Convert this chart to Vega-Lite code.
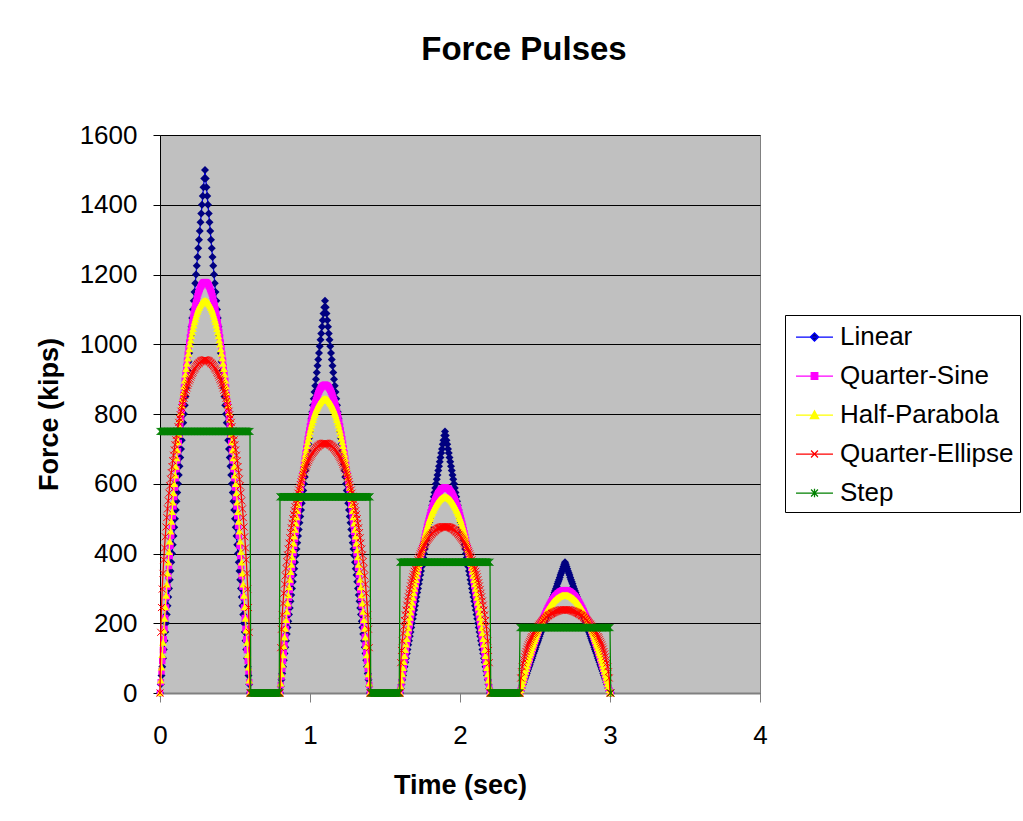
{
"$schema": "https://vega.github.io/schema/vega-lite/v6.json",
"width": 600, "height": 558,
"autosize": {"type": "none"},
"padding": {"left": 160, "top": 135, "right": 263, "bottom": 128},
"background": "white",
"title": {"text": "Force Pulses", "fontSize": 33, "fontWeight": "bold", "font": "Liberation Sans", "color": "black", "frame": "group", "anchor": "middle", "dx": 64, "offset": 55},
"config": {"font": "Liberation Sans", "numberFormat": "d", "view": {"fill": "#C0C0C0", "stroke": "#808080", "strokeWidth": 1},
  "axisY": {"grid": true, "gridColor": "black", "gridOpacity": 1, "gridWidth": 1, "domainColor": "black", "domainWidth": 1,
    "tickColor": "black", "tickSize": 7, "tickCount": 8, "labelFontSize": 26, "labelColor": "black", "labelPadding": 16,
    "labelFlush": false, "labelOverlap": false, "titleFontSize": 27, "titleFontWeight": "bold",
    "titleColor": "black", "titlePadding": 16}},
"data": {"values": [
{"t":0,"L":0,"Q":0,"H":0,"E":0,"S":750},
{"t":0.005,"L":25,"Q":31,"H":37,"E":174,"S":750},
{"t":0.01,"L":50,"Q":62,"H":74,"E":245,"S":750},
{"t":0.015,"L":75,"Q":92,"H":110,"E":298,"S":750},
{"t":0.02,"L":100,"Q":123,"H":145,"E":343,"S":750},
{"t":0.025,"L":125,"Q":154,"H":180,"E":382,"S":750},
{"t":0.03,"L":150,"Q":184,"H":214,"E":416,"S":750},
{"t":0.035,"L":175,"Q":215,"H":247,"E":448,"S":750},
{"t":0.04,"L":200,"Q":245,"H":280,"E":476,"S":750},
{"t":0.045,"L":225,"Q":275,"H":312,"E":503,"S":750},
{"t":0.05,"L":250,"Q":305,"H":344,"E":528,"S":750},
{"t":0.055,"L":275,"Q":335,"H":375,"E":551,"S":750},
{"t":0.06,"L":300,"Q":364,"H":405,"E":573,"S":750},
{"t":0.065,"L":325,"Q":393,"H":435,"E":594,"S":750},
{"t":0.07,"L":350,"Q":422,"H":464,"E":613,"S":750},
{"t":0.075,"L":375,"Q":451,"H":492,"E":632,"S":750},
{"t":0.08,"L":400,"Q":479,"H":520,"E":649,"S":750},
{"t":0.085,"L":425,"Q":507,"H":547,"E":666,"S":750},
{"t":0.09,"L":450,"Q":535,"H":574,"E":682,"S":750},
{"t":0.095,"L":475,"Q":562,"H":600,"E":697,"S":750},
{"t":0.1,"L":500,"Q":589,"H":625,"E":712,"S":750},
{"t":0.105,"L":525,"Q":616,"H":650,"E":726,"S":750},
{"t":0.11,"L":550,"Q":642,"H":674,"E":739,"S":750},
{"t":0.115,"L":575,"Q":667,"H":697,"E":752,"S":750},
{"t":0.12,"L":600,"Q":693,"H":720,"E":764,"S":750},
{"t":0.125,"L":625,"Q":717,"H":742,"E":776,"S":750},
{"t":0.13,"L":650,"Q":741,"H":764,"E":787,"S":750},
{"t":0.135,"L":675,"Q":765,"H":785,"E":798,"S":750},
{"t":0.14,"L":700,"Q":788,"H":805,"E":808,"S":750},
{"t":0.145,"L":725,"Q":811,"H":825,"E":818,"S":750},
{"t":0.15,"L":750,"Q":833,"H":844,"E":827,"S":750},
{"t":0.155,"L":775,"Q":855,"H":862,"E":836,"S":750},
{"t":0.16,"L":800,"Q":876,"H":880,"E":845,"S":750},
{"t":0.165,"L":825,"Q":896,"H":897,"E":853,"S":750},
{"t":0.17,"L":850,"Q":916,"H":914,"E":861,"S":750},
{"t":0.175,"L":875,"Q":935,"H":930,"E":868,"S":750},
{"t":0.18,"L":900,"Q":953,"H":945,"E":875,"S":750},
{"t":0.185,"L":925,"Q":971,"H":960,"E":882,"S":750},
{"t":0.19,"L":950,"Q":988,"H":974,"E":888,"S":750},
{"t":0.195,"L":975,"Q":1005,"H":987,"E":895,"S":750},
{"t":0.2,"L":1000,"Q":1020,"H":1000,"E":900,"S":750},
{"t":0.205,"L":1025,"Q":1035,"H":1012,"E":906,"S":750},
{"t":0.21,"L":1050,"Q":1050,"H":1024,"E":911,"S":750},
{"t":0.215,"L":1075,"Q":1063,"H":1035,"E":916,"S":750},
{"t":0.22,"L":1100,"Q":1076,"H":1045,"E":920,"S":750},
{"t":0.225,"L":1125,"Q":1088,"H":1055,"E":925,"S":750},
{"t":0.23,"L":1150,"Q":1100,"H":1064,"E":929,"S":750},
{"t":0.235,"L":1175,"Q":1111,"H":1072,"E":932,"S":750},
{"t":0.24,"L":1200,"Q":1120,"H":1080,"E":936,"S":750},
{"t":0.245,"L":1225,"Q":1130,"H":1087,"E":939,"S":750},
{"t":0.25,"L":1250,"Q":1138,"H":1094,"E":942,"S":750},
{"t":0.255,"L":1275,"Q":1146,"H":1100,"E":944,"S":750},
{"t":0.26,"L":1300,"Q":1152,"H":1105,"E":946,"S":750},
{"t":0.265,"L":1325,"Q":1158,"H":1110,"E":948,"S":750},
{"t":0.27,"L":1350,"Q":1164,"H":1114,"E":950,"S":750},
{"t":0.275,"L":1375,"Q":1168,"H":1117,"E":952,"S":750},
{"t":0.28,"L":1400,"Q":1172,"H":1120,"E":953,"S":750},
{"t":0.285,"L":1425,"Q":1175,"H":1122,"E":954,"S":750},
{"t":0.29,"L":1450,"Q":1177,"H":1124,"E":954,"S":750},
{"t":0.295,"L":1475,"Q":1178,"H":1125,"E":955,"S":750},
{"t":0.3,"L":1500,"Q":1178,"H":1125,"E":955,"S":750},
{"t":0.305,"L":1475,"Q":1178,"H":1125,"E":955,"S":750},
{"t":0.31,"L":1450,"Q":1177,"H":1124,"E":954,"S":750},
{"t":0.315,"L":1425,"Q":1175,"H":1122,"E":954,"S":750},
{"t":0.32,"L":1400,"Q":1172,"H":1120,"E":953,"S":750},
{"t":0.325,"L":1375,"Q":1168,"H":1117,"E":952,"S":750},
{"t":0.33,"L":1350,"Q":1164,"H":1114,"E":950,"S":750},
{"t":0.335,"L":1325,"Q":1158,"H":1110,"E":948,"S":750},
{"t":0.34,"L":1300,"Q":1152,"H":1105,"E":946,"S":750},
{"t":0.345,"L":1275,"Q":1146,"H":1100,"E":944,"S":750},
{"t":0.35,"L":1250,"Q":1138,"H":1094,"E":942,"S":750},
{"t":0.355,"L":1225,"Q":1130,"H":1087,"E":939,"S":750},
{"t":0.36,"L":1200,"Q":1120,"H":1080,"E":936,"S":750},
{"t":0.365,"L":1175,"Q":1111,"H":1072,"E":932,"S":750},
{"t":0.37,"L":1150,"Q":1100,"H":1064,"E":929,"S":750},
{"t":0.375,"L":1125,"Q":1088,"H":1055,"E":925,"S":750},
{"t":0.38,"L":1100,"Q":1076,"H":1045,"E":920,"S":750},
{"t":0.385,"L":1075,"Q":1063,"H":1035,"E":916,"S":750},
{"t":0.39,"L":1050,"Q":1050,"H":1024,"E":911,"S":750},
{"t":0.395,"L":1025,"Q":1035,"H":1012,"E":906,"S":750},
{"t":0.4,"L":1000,"Q":1020,"H":1000,"E":900,"S":750},
{"t":0.405,"L":975,"Q":1005,"H":987,"E":895,"S":750},
{"t":0.41,"L":950,"Q":988,"H":974,"E":888,"S":750},
{"t":0.415,"L":925,"Q":971,"H":960,"E":882,"S":750},
{"t":0.42,"L":900,"Q":953,"H":945,"E":875,"S":750},
{"t":0.425,"L":875,"Q":935,"H":930,"E":868,"S":750},
{"t":0.43,"L":850,"Q":916,"H":914,"E":861,"S":750},
{"t":0.435,"L":825,"Q":896,"H":897,"E":853,"S":750},
{"t":0.44,"L":800,"Q":876,"H":880,"E":845,"S":750},
{"t":0.445,"L":775,"Q":855,"H":862,"E":836,"S":750},
{"t":0.45,"L":750,"Q":833,"H":844,"E":827,"S":750},
{"t":0.455,"L":725,"Q":811,"H":825,"E":818,"S":750},
{"t":0.46,"L":700,"Q":788,"H":805,"E":808,"S":750},
{"t":0.465,"L":675,"Q":765,"H":785,"E":798,"S":750},
{"t":0.47,"L":650,"Q":741,"H":764,"E":787,"S":750},
{"t":0.475,"L":625,"Q":717,"H":742,"E":776,"S":750},
{"t":0.48,"L":600,"Q":693,"H":720,"E":764,"S":750},
{"t":0.485,"L":575,"Q":667,"H":697,"E":752,"S":750},
{"t":0.49,"L":550,"Q":642,"H":674,"E":739,"S":750},
{"t":0.495,"L":525,"Q":616,"H":650,"E":726,"S":750},
{"t":0.5,"L":500,"Q":589,"H":625,"E":712,"S":750},
{"t":0.505,"L":475,"Q":562,"H":600,"E":697,"S":750},
{"t":0.51,"L":450,"Q":535,"H":574,"E":682,"S":750},
{"t":0.515,"L":425,"Q":507,"H":547,"E":666,"S":750},
{"t":0.52,"L":400,"Q":479,"H":520,"E":649,"S":750},
{"t":0.525,"L":375,"Q":451,"H":492,"E":632,"S":750},
{"t":0.53,"L":350,"Q":422,"H":464,"E":613,"S":750},
{"t":0.535,"L":325,"Q":393,"H":435,"E":594,"S":750},
{"t":0.54,"L":300,"Q":364,"H":405,"E":573,"S":750},
{"t":0.545,"L":275,"Q":335,"H":375,"E":551,"S":750},
{"t":0.55,"L":250,"Q":305,"H":344,"E":528,"S":750},
{"t":0.555,"L":225,"Q":275,"H":312,"E":503,"S":750},
{"t":0.56,"L":200,"Q":245,"H":280,"E":476,"S":750},
{"t":0.565,"L":175,"Q":215,"H":247,"E":448,"S":750},
{"t":0.57,"L":150,"Q":184,"H":214,"E":416,"S":750},
{"t":0.575,"L":125,"Q":154,"H":180,"E":382,"S":750},
{"t":0.58,"L":100,"Q":123,"H":145,"E":343,"S":750},
{"t":0.585,"L":75,"Q":92,"H":110,"E":298,"S":750},
{"t":0.59,"L":50,"Q":62,"H":74,"E":245,"S":750},
{"t":0.595,"L":25,"Q":31,"H":37,"E":174,"S":750},
{"t":0.6,"L":0,"Q":0,"H":0,"E":0,"S":750},
{"t":0.605,"L":0,"Q":0,"H":0,"E":0,"S":0},
{"t":0.61,"L":0,"Q":0,"H":0,"E":0,"S":0},
{"t":0.615,"L":0,"Q":0,"H":0,"E":0,"S":0},
{"t":0.62,"L":0,"Q":0,"H":0,"E":0,"S":0},
{"t":0.625,"L":0,"Q":0,"H":0,"E":0,"S":0},
{"t":0.63,"L":0,"Q":0,"H":0,"E":0,"S":0},
{"t":0.635,"L":0,"Q":0,"H":0,"E":0,"S":0},
{"t":0.64,"L":0,"Q":0,"H":0,"E":0,"S":0},
{"t":0.645,"L":0,"Q":0,"H":0,"E":0,"S":0},
{"t":0.65,"L":0,"Q":0,"H":0,"E":0,"S":0},
{"t":0.655,"L":0,"Q":0,"H":0,"E":0,"S":0},
{"t":0.66,"L":0,"Q":0,"H":0,"E":0,"S":0},
{"t":0.665,"L":0,"Q":0,"H":0,"E":0,"S":0},
{"t":0.67,"L":0,"Q":0,"H":0,"E":0,"S":0},
{"t":0.675,"L":0,"Q":0,"H":0,"E":0,"S":0},
{"t":0.68,"L":0,"Q":0,"H":0,"E":0,"S":0},
{"t":0.685,"L":0,"Q":0,"H":0,"E":0,"S":0},
{"t":0.69,"L":0,"Q":0,"H":0,"E":0,"S":0},
{"t":0.695,"L":0,"Q":0,"H":0,"E":0,"S":0},
{"t":0.7,"L":0,"Q":0,"H":0,"E":0,"S":0},
{"t":0.705,"L":0,"Q":0,"H":0,"E":0,"S":0},
{"t":0.71,"L":0,"Q":0,"H":0,"E":0,"S":0},
{"t":0.715,"L":0,"Q":0,"H":0,"E":0,"S":0},
{"t":0.72,"L":0,"Q":0,"H":0,"E":0,"S":0},
{"t":0.725,"L":0,"Q":0,"H":0,"E":0,"S":0},
{"t":0.73,"L":0,"Q":0,"H":0,"E":0,"S":0},
{"t":0.735,"L":0,"Q":0,"H":0,"E":0,"S":0},
{"t":0.74,"L":0,"Q":0,"H":0,"E":0,"S":0},
{"t":0.745,"L":0,"Q":0,"H":0,"E":0,"S":0},
{"t":0.75,"L":0,"Q":0,"H":0,"E":0,"S":0},
{"t":0.755,"L":0,"Q":0,"H":0,"E":0,"S":0},
{"t":0.76,"L":0,"Q":0,"H":0,"E":0,"S":0},
{"t":0.765,"L":0,"Q":0,"H":0,"E":0,"S":0},
{"t":0.77,"L":0,"Q":0,"H":0,"E":0,"S":0},
{"t":0.775,"L":0,"Q":0,"H":0,"E":0,"S":0},
{"t":0.78,"L":0,"Q":0,"H":0,"E":0,"S":0},
{"t":0.785,"L":0,"Q":0,"H":0,"E":0,"S":0},
{"t":0.79,"L":0,"Q":0,"H":0,"E":0,"S":0},
{"t":0.795,"L":0,"Q":0,"H":0,"E":0,"S":0},
{"t":0.8,"L":0,"Q":0,"H":0,"E":0,"S":562.5},
{"t":0.805,"L":19,"Q":23,"H":28,"E":130,"S":562.5},
{"t":0.81,"L":38,"Q":46,"H":55,"E":183,"S":562.5},
{"t":0.815,"L":56,"Q":69,"H":82,"E":224,"S":562.5},
{"t":0.82,"L":75,"Q":92,"H":109,"E":257,"S":562.5},
{"t":0.825,"L":94,"Q":115,"H":135,"E":286,"S":562.5},
{"t":0.83,"L":113,"Q":138,"H":160,"E":312,"S":562.5},
{"t":0.835,"L":131,"Q":161,"H":185,"E":336,"S":562.5},
{"t":0.84,"L":150,"Q":184,"H":210,"E":357,"S":562.5},
{"t":0.845,"L":169,"Q":206,"H":234,"E":377,"S":562.5},
{"t":0.85,"L":188,"Q":229,"H":258,"E":396,"S":562.5},
{"t":0.855,"L":206,"Q":251,"H":281,"E":413,"S":562.5},
{"t":0.86,"L":225,"Q":273,"H":304,"E":430,"S":562.5},
{"t":0.865,"L":244,"Q":295,"H":326,"E":445,"S":562.5},
{"t":0.87,"L":263,"Q":317,"H":348,"E":460,"S":562.5},
{"t":0.875,"L":281,"Q":338,"H":369,"E":474,"S":562.5},
{"t":0.88,"L":300,"Q":359,"H":390,"E":487,"S":562.5},
{"t":0.885,"L":319,"Q":380,"H":410,"E":500,"S":562.5},
{"t":0.89,"L":338,"Q":401,"H":430,"E":512,"S":562.5},
{"t":0.895,"L":356,"Q":422,"H":450,"E":523,"S":562.5},
{"t":0.9,"L":375,"Q":442,"H":469,"E":534,"S":562.5},
{"t":0.905,"L":394,"Q":462,"H":487,"E":544,"S":562.5},
{"t":0.91,"L":413,"Q":481,"H":505,"E":554,"S":562.5},
{"t":0.915,"L":431,"Q":500,"H":523,"E":564,"S":562.5},
{"t":0.92,"L":450,"Q":519,"H":540,"E":573,"S":562.5},
{"t":0.925,"L":469,"Q":538,"H":557,"E":582,"S":562.5},
{"t":0.93,"L":488,"Q":556,"H":573,"E":590,"S":562.5},
{"t":0.935,"L":506,"Q":574,"H":589,"E":598,"S":562.5},
{"t":0.94,"L":525,"Q":591,"H":604,"E":606,"S":562.5},
{"t":0.945,"L":544,"Q":608,"H":619,"E":613,"S":562.5},
{"t":0.95,"L":563,"Q":625,"H":633,"E":620,"S":562.5},
{"t":0.955,"L":581,"Q":641,"H":647,"E":627,"S":562.5},
{"t":0.96,"L":600,"Q":657,"H":660,"E":633,"S":562.5},
{"t":0.965,"L":619,"Q":672,"H":673,"E":640,"S":562.5},
{"t":0.97,"L":638,"Q":687,"H":685,"E":645,"S":562.5},
{"t":0.975,"L":656,"Q":701,"H":697,"E":651,"S":562.5},
{"t":0.98,"L":675,"Q":715,"H":709,"E":656,"S":562.5},
{"t":0.985,"L":694,"Q":728,"H":720,"E":661,"S":562.5},
{"t":0.99,"L":713,"Q":741,"H":730,"E":666,"S":562.5},
{"t":0.995,"L":731,"Q":753,"H":740,"E":671,"S":562.5},
{"t":1,"L":750,"Q":765,"H":750,"E":675,"S":562.5},
{"t":1.005,"L":769,"Q":776,"H":759,"E":679,"S":562.5},
{"t":1.01,"L":788,"Q":787,"H":768,"E":683,"S":562.5},
{"t":1.015,"L":806,"Q":797,"H":776,"E":687,"S":562.5},
{"t":1.02,"L":825,"Q":807,"H":784,"E":690,"S":562.5},
{"t":1.025,"L":844,"Q":816,"H":791,"E":693,"S":562.5},
{"t":1.03,"L":863,"Q":825,"H":798,"E":696,"S":562.5},
{"t":1.035,"L":881,"Q":833,"H":804,"E":699,"S":562.5},
{"t":1.04,"L":900,"Q":840,"H":810,"E":702,"S":562.5},
{"t":1.045,"L":919,"Q":847,"H":815,"E":704,"S":562.5},
{"t":1.05,"L":938,"Q":853,"H":820,"E":706,"S":562.5},
{"t":1.055,"L":956,"Q":859,"H":825,"E":708,"S":562.5},
{"t":1.06,"L":975,"Q":864,"H":829,"E":710,"S":562.5},
{"t":1.065,"L":994,"Q":869,"H":832,"E":711,"S":562.5},
{"t":1.07,"L":1013,"Q":873,"H":835,"E":713,"S":562.5},
{"t":1.075,"L":1031,"Q":876,"H":838,"E":714,"S":562.5},
{"t":1.08,"L":1050,"Q":879,"H":840,"E":715,"S":562.5},
{"t":1.085,"L":1069,"Q":881,"H":842,"E":715,"S":562.5},
{"t":1.09,"L":1088,"Q":882,"H":843,"E":716,"S":562.5},
{"t":1.095,"L":1106,"Q":883,"H":844,"E":716,"S":562.5},
{"t":1.1,"L":1125,"Q":884,"H":844,"E":716,"S":562.5},
{"t":1.105,"L":1106,"Q":883,"H":844,"E":716,"S":562.5},
{"t":1.11,"L":1088,"Q":882,"H":843,"E":716,"S":562.5},
{"t":1.115,"L":1069,"Q":881,"H":842,"E":715,"S":562.5},
{"t":1.12,"L":1050,"Q":879,"H":840,"E":715,"S":562.5},
{"t":1.125,"L":1031,"Q":876,"H":838,"E":714,"S":562.5},
{"t":1.13,"L":1013,"Q":873,"H":835,"E":713,"S":562.5},
{"t":1.135,"L":994,"Q":869,"H":832,"E":711,"S":562.5},
{"t":1.14,"L":975,"Q":864,"H":829,"E":710,"S":562.5},
{"t":1.145,"L":956,"Q":859,"H":825,"E":708,"S":562.5},
{"t":1.15,"L":938,"Q":853,"H":820,"E":706,"S":562.5},
{"t":1.155,"L":919,"Q":847,"H":815,"E":704,"S":562.5},
{"t":1.16,"L":900,"Q":840,"H":810,"E":702,"S":562.5},
{"t":1.165,"L":881,"Q":833,"H":804,"E":699,"S":562.5},
{"t":1.17,"L":863,"Q":825,"H":798,"E":696,"S":562.5},
{"t":1.175,"L":844,"Q":816,"H":791,"E":693,"S":562.5},
{"t":1.18,"L":825,"Q":807,"H":784,"E":690,"S":562.5},
{"t":1.185,"L":806,"Q":797,"H":776,"E":687,"S":562.5},
{"t":1.19,"L":788,"Q":787,"H":768,"E":683,"S":562.5},
{"t":1.195,"L":769,"Q":776,"H":759,"E":679,"S":562.5},
{"t":1.2,"L":750,"Q":765,"H":750,"E":675,"S":562.5},
{"t":1.205,"L":731,"Q":753,"H":740,"E":671,"S":562.5},
{"t":1.21,"L":713,"Q":741,"H":730,"E":666,"S":562.5},
{"t":1.215,"L":694,"Q":728,"H":720,"E":661,"S":562.5},
{"t":1.22,"L":675,"Q":715,"H":709,"E":656,"S":562.5},
{"t":1.225,"L":656,"Q":701,"H":697,"E":651,"S":562.5},
{"t":1.23,"L":638,"Q":687,"H":685,"E":645,"S":562.5},
{"t":1.235,"L":619,"Q":672,"H":673,"E":640,"S":562.5},
{"t":1.24,"L":600,"Q":657,"H":660,"E":633,"S":562.5},
{"t":1.245,"L":581,"Q":641,"H":647,"E":627,"S":562.5},
{"t":1.25,"L":563,"Q":625,"H":633,"E":620,"S":562.5},
{"t":1.255,"L":544,"Q":608,"H":619,"E":613,"S":562.5},
{"t":1.26,"L":525,"Q":591,"H":604,"E":606,"S":562.5},
{"t":1.265,"L":506,"Q":574,"H":589,"E":598,"S":562.5},
{"t":1.27,"L":488,"Q":556,"H":573,"E":590,"S":562.5},
{"t":1.275,"L":469,"Q":538,"H":557,"E":582,"S":562.5},
{"t":1.28,"L":450,"Q":519,"H":540,"E":573,"S":562.5},
{"t":1.285,"L":431,"Q":500,"H":523,"E":564,"S":562.5},
{"t":1.29,"L":413,"Q":481,"H":505,"E":554,"S":562.5},
{"t":1.295,"L":394,"Q":462,"H":487,"E":544,"S":562.5},
{"t":1.3,"L":375,"Q":442,"H":469,"E":534,"S":562.5},
{"t":1.305,"L":356,"Q":422,"H":450,"E":523,"S":562.5},
{"t":1.31,"L":338,"Q":401,"H":430,"E":512,"S":562.5},
{"t":1.315,"L":319,"Q":380,"H":410,"E":500,"S":562.5},
{"t":1.32,"L":300,"Q":359,"H":390,"E":487,"S":562.5},
{"t":1.325,"L":281,"Q":338,"H":369,"E":474,"S":562.5},
{"t":1.33,"L":263,"Q":317,"H":348,"E":460,"S":562.5},
{"t":1.335,"L":244,"Q":295,"H":326,"E":445,"S":562.5},
{"t":1.34,"L":225,"Q":273,"H":304,"E":430,"S":562.5},
{"t":1.345,"L":206,"Q":251,"H":281,"E":413,"S":562.5},
{"t":1.35,"L":188,"Q":229,"H":258,"E":396,"S":562.5},
{"t":1.355,"L":169,"Q":206,"H":234,"E":377,"S":562.5},
{"t":1.36,"L":150,"Q":184,"H":210,"E":357,"S":562.5},
{"t":1.365,"L":131,"Q":161,"H":185,"E":336,"S":562.5},
{"t":1.37,"L":113,"Q":138,"H":160,"E":312,"S":562.5},
{"t":1.375,"L":94,"Q":115,"H":135,"E":286,"S":562.5},
{"t":1.38,"L":75,"Q":92,"H":109,"E":257,"S":562.5},
{"t":1.385,"L":56,"Q":69,"H":82,"E":224,"S":562.5},
{"t":1.39,"L":38,"Q":46,"H":55,"E":183,"S":562.5},
{"t":1.395,"L":19,"Q":23,"H":28,"E":130,"S":562.5},
{"t":1.4,"L":0,"Q":0,"H":0,"E":0,"S":562.5},
{"t":1.405,"L":0,"Q":0,"H":0,"E":0,"S":0},
{"t":1.41,"L":0,"Q":0,"H":0,"E":0,"S":0},
{"t":1.415,"L":0,"Q":0,"H":0,"E":0,"S":0},
{"t":1.42,"L":0,"Q":0,"H":0,"E":0,"S":0},
{"t":1.425,"L":0,"Q":0,"H":0,"E":0,"S":0},
{"t":1.43,"L":0,"Q":0,"H":0,"E":0,"S":0},
{"t":1.435,"L":0,"Q":0,"H":0,"E":0,"S":0},
{"t":1.44,"L":0,"Q":0,"H":0,"E":0,"S":0},
{"t":1.445,"L":0,"Q":0,"H":0,"E":0,"S":0},
{"t":1.45,"L":0,"Q":0,"H":0,"E":0,"S":0},
{"t":1.455,"L":0,"Q":0,"H":0,"E":0,"S":0},
{"t":1.46,"L":0,"Q":0,"H":0,"E":0,"S":0},
{"t":1.465,"L":0,"Q":0,"H":0,"E":0,"S":0},
{"t":1.47,"L":0,"Q":0,"H":0,"E":0,"S":0},
{"t":1.475,"L":0,"Q":0,"H":0,"E":0,"S":0},
{"t":1.48,"L":0,"Q":0,"H":0,"E":0,"S":0},
{"t":1.485,"L":0,"Q":0,"H":0,"E":0,"S":0},
{"t":1.49,"L":0,"Q":0,"H":0,"E":0,"S":0},
{"t":1.495,"L":0,"Q":0,"H":0,"E":0,"S":0},
{"t":1.5,"L":0,"Q":0,"H":0,"E":0,"S":0},
{"t":1.505,"L":0,"Q":0,"H":0,"E":0,"S":0},
{"t":1.51,"L":0,"Q":0,"H":0,"E":0,"S":0},
{"t":1.515,"L":0,"Q":0,"H":0,"E":0,"S":0},
{"t":1.52,"L":0,"Q":0,"H":0,"E":0,"S":0},
{"t":1.525,"L":0,"Q":0,"H":0,"E":0,"S":0},
{"t":1.53,"L":0,"Q":0,"H":0,"E":0,"S":0},
{"t":1.535,"L":0,"Q":0,"H":0,"E":0,"S":0},
{"t":1.54,"L":0,"Q":0,"H":0,"E":0,"S":0},
{"t":1.545,"L":0,"Q":0,"H":0,"E":0,"S":0},
{"t":1.55,"L":0,"Q":0,"H":0,"E":0,"S":0},
{"t":1.555,"L":0,"Q":0,"H":0,"E":0,"S":0},
{"t":1.56,"L":0,"Q":0,"H":0,"E":0,"S":0},
{"t":1.565,"L":0,"Q":0,"H":0,"E":0,"S":0},
{"t":1.57,"L":0,"Q":0,"H":0,"E":0,"S":0},
{"t":1.575,"L":0,"Q":0,"H":0,"E":0,"S":0},
{"t":1.58,"L":0,"Q":0,"H":0,"E":0,"S":0},
{"t":1.585,"L":0,"Q":0,"H":0,"E":0,"S":0},
{"t":1.59,"L":0,"Q":0,"H":0,"E":0,"S":0},
{"t":1.595,"L":0,"Q":0,"H":0,"E":0,"S":0},
{"t":1.6,"L":0,"Q":0,"H":0,"E":0,"S":375},
{"t":1.605,"L":13,"Q":15,"H":19,"E":87,"S":375},
{"t":1.61,"L":25,"Q":31,"H":37,"E":122,"S":375},
{"t":1.615,"L":38,"Q":46,"H":55,"E":149,"S":375},
{"t":1.62,"L":50,"Q":62,"H":73,"E":171,"S":375},
{"t":1.625,"L":63,"Q":77,"H":90,"E":191,"S":375},
{"t":1.63,"L":75,"Q":92,"H":107,"E":208,"S":375},
{"t":1.635,"L":88,"Q":107,"H":124,"E":224,"S":375},
{"t":1.64,"L":100,"Q":122,"H":140,"E":238,"S":375},
{"t":1.645,"L":113,"Q":138,"H":156,"E":252,"S":375},
{"t":1.65,"L":125,"Q":152,"H":172,"E":264,"S":375},
{"t":1.655,"L":138,"Q":167,"H":187,"E":276,"S":375},
{"t":1.66,"L":150,"Q":182,"H":203,"E":286,"S":375},
{"t":1.665,"L":163,"Q":197,"H":217,"E":297,"S":375},
{"t":1.67,"L":175,"Q":211,"H":232,"E":307,"S":375},
{"t":1.675,"L":188,"Q":225,"H":246,"E":316,"S":375},
{"t":1.68,"L":200,"Q":240,"H":260,"E":325,"S":375},
{"t":1.685,"L":213,"Q":254,"H":274,"E":333,"S":375},
{"t":1.69,"L":225,"Q":267,"H":287,"E":341,"S":375},
{"t":1.695,"L":238,"Q":281,"H":300,"E":349,"S":375},
{"t":1.7,"L":250,"Q":295,"H":313,"E":356,"S":375},
{"t":1.705,"L":263,"Q":308,"H":325,"E":363,"S":375},
{"t":1.71,"L":275,"Q":321,"H":337,"E":370,"S":375},
{"t":1.715,"L":288,"Q":334,"H":349,"E":376,"S":375},
{"t":1.72,"L":300,"Q":346,"H":360,"E":382,"S":375},
{"t":1.725,"L":313,"Q":359,"H":371,"E":388,"S":375},
{"t":1.73,"L":325,"Q":371,"H":382,"E":393,"S":375},
{"t":1.735,"L":338,"Q":383,"H":392,"E":399,"S":375},
{"t":1.74,"L":350,"Q":394,"H":403,"E":404,"S":375},
{"t":1.745,"L":363,"Q":406,"H":412,"E":409,"S":375},
{"t":1.75,"L":375,"Q":417,"H":422,"E":414,"S":375},
{"t":1.755,"L":388,"Q":427,"H":431,"E":418,"S":375},
{"t":1.76,"L":400,"Q":438,"H":440,"E":422,"S":375},
{"t":1.765,"L":413,"Q":448,"H":449,"E":426,"S":375},
{"t":1.77,"L":425,"Q":458,"H":457,"E":430,"S":375},
{"t":1.775,"L":438,"Q":467,"H":465,"E":434,"S":375},
{"t":1.78,"L":450,"Q":477,"H":473,"E":438,"S":375},
{"t":1.785,"L":463,"Q":485,"H":480,"E":441,"S":375},
{"t":1.79,"L":475,"Q":494,"H":487,"E":444,"S":375},
{"t":1.795,"L":488,"Q":502,"H":494,"E":447,"S":375},
{"t":1.8,"L":500,"Q":510,"H":500,"E":450,"S":375},
{"t":1.805,"L":513,"Q":518,"H":506,"E":453,"S":375},
{"t":1.81,"L":525,"Q":525,"H":512,"E":455,"S":375},
{"t":1.815,"L":538,"Q":532,"H":517,"E":458,"S":375},
{"t":1.82,"L":550,"Q":538,"H":523,"E":460,"S":375},
{"t":1.825,"L":563,"Q":544,"H":527,"E":462,"S":375},
{"t":1.83,"L":575,"Q":550,"H":532,"E":464,"S":375},
{"t":1.835,"L":588,"Q":555,"H":536,"E":466,"S":375},
{"t":1.84,"L":600,"Q":560,"H":540,"E":468,"S":375},
{"t":1.845,"L":613,"Q":565,"H":544,"E":469,"S":375},
{"t":1.85,"L":625,"Q":569,"H":547,"E":471,"S":375},
{"t":1.855,"L":638,"Q":573,"H":550,"E":472,"S":375},
{"t":1.86,"L":650,"Q":576,"H":553,"E":473,"S":375},
{"t":1.865,"L":663,"Q":579,"H":555,"E":474,"S":375},
{"t":1.87,"L":675,"Q":582,"H":557,"E":475,"S":375},
{"t":1.875,"L":688,"Q":584,"H":559,"E":476,"S":375},
{"t":1.88,"L":700,"Q":586,"H":560,"E":476,"S":375},
{"t":1.885,"L":713,"Q":587,"H":561,"E":477,"S":375},
{"t":1.89,"L":725,"Q":588,"H":562,"E":477,"S":375},
{"t":1.895,"L":738,"Q":589,"H":562,"E":477,"S":375},
{"t":1.9,"L":750,"Q":589,"H":563,"E":477,"S":375},
{"t":1.905,"L":738,"Q":589,"H":562,"E":477,"S":375},
{"t":1.91,"L":725,"Q":588,"H":562,"E":477,"S":375},
{"t":1.915,"L":713,"Q":587,"H":561,"E":477,"S":375},
{"t":1.92,"L":700,"Q":586,"H":560,"E":476,"S":375},
{"t":1.925,"L":688,"Q":584,"H":559,"E":476,"S":375},
{"t":1.93,"L":675,"Q":582,"H":557,"E":475,"S":375},
{"t":1.935,"L":663,"Q":579,"H":555,"E":474,"S":375},
{"t":1.94,"L":650,"Q":576,"H":553,"E":473,"S":375},
{"t":1.945,"L":638,"Q":573,"H":550,"E":472,"S":375},
{"t":1.95,"L":625,"Q":569,"H":547,"E":471,"S":375},
{"t":1.955,"L":613,"Q":565,"H":544,"E":469,"S":375},
{"t":1.96,"L":600,"Q":560,"H":540,"E":468,"S":375},
{"t":1.965,"L":588,"Q":555,"H":536,"E":466,"S":375},
{"t":1.97,"L":575,"Q":550,"H":532,"E":464,"S":375},
{"t":1.975,"L":563,"Q":544,"H":527,"E":462,"S":375},
{"t":1.98,"L":550,"Q":538,"H":523,"E":460,"S":375},
{"t":1.985,"L":538,"Q":532,"H":517,"E":458,"S":375},
{"t":1.99,"L":525,"Q":525,"H":512,"E":455,"S":375},
{"t":1.995,"L":513,"Q":518,"H":506,"E":453,"S":375},
{"t":2,"L":500,"Q":510,"H":500,"E":450,"S":375},
{"t":2.005,"L":488,"Q":502,"H":494,"E":447,"S":375},
{"t":2.01,"L":475,"Q":494,"H":487,"E":444,"S":375},
{"t":2.015,"L":463,"Q":485,"H":480,"E":441,"S":375},
{"t":2.02,"L":450,"Q":477,"H":473,"E":438,"S":375},
{"t":2.025,"L":438,"Q":467,"H":465,"E":434,"S":375},
{"t":2.03,"L":425,"Q":458,"H":457,"E":430,"S":375},
{"t":2.035,"L":413,"Q":448,"H":449,"E":426,"S":375},
{"t":2.04,"L":400,"Q":438,"H":440,"E":422,"S":375},
{"t":2.045,"L":388,"Q":427,"H":431,"E":418,"S":375},
{"t":2.05,"L":375,"Q":417,"H":422,"E":414,"S":375},
{"t":2.055,"L":363,"Q":406,"H":412,"E":409,"S":375},
{"t":2.06,"L":350,"Q":394,"H":403,"E":404,"S":375},
{"t":2.065,"L":338,"Q":383,"H":392,"E":399,"S":375},
{"t":2.07,"L":325,"Q":371,"H":382,"E":393,"S":375},
{"t":2.075,"L":313,"Q":359,"H":371,"E":388,"S":375},
{"t":2.08,"L":300,"Q":346,"H":360,"E":382,"S":375},
{"t":2.085,"L":288,"Q":334,"H":349,"E":376,"S":375},
{"t":2.09,"L":275,"Q":321,"H":337,"E":370,"S":375},
{"t":2.095,"L":263,"Q":308,"H":325,"E":363,"S":375},
{"t":2.1,"L":250,"Q":295,"H":313,"E":356,"S":375},
{"t":2.105,"L":238,"Q":281,"H":300,"E":349,"S":375},
{"t":2.11,"L":225,"Q":267,"H":287,"E":341,"S":375},
{"t":2.115,"L":213,"Q":254,"H":274,"E":333,"S":375},
{"t":2.12,"L":200,"Q":240,"H":260,"E":325,"S":375},
{"t":2.125,"L":188,"Q":225,"H":246,"E":316,"S":375},
{"t":2.13,"L":175,"Q":211,"H":232,"E":307,"S":375},
{"t":2.135,"L":163,"Q":197,"H":217,"E":297,"S":375},
{"t":2.14,"L":150,"Q":182,"H":203,"E":286,"S":375},
{"t":2.145,"L":138,"Q":167,"H":187,"E":276,"S":375},
{"t":2.15,"L":125,"Q":152,"H":172,"E":264,"S":375},
{"t":2.155,"L":113,"Q":138,"H":156,"E":252,"S":375},
{"t":2.16,"L":100,"Q":122,"H":140,"E":238,"S":375},
{"t":2.165,"L":88,"Q":107,"H":124,"E":224,"S":375},
{"t":2.17,"L":75,"Q":92,"H":107,"E":208,"S":375},
{"t":2.175,"L":63,"Q":77,"H":90,"E":191,"S":375},
{"t":2.18,"L":50,"Q":62,"H":73,"E":171,"S":375},
{"t":2.185,"L":38,"Q":46,"H":55,"E":149,"S":375},
{"t":2.19,"L":25,"Q":31,"H":37,"E":122,"S":375},
{"t":2.195,"L":13,"Q":15,"H":19,"E":87,"S":375},
{"t":2.2,"L":0,"Q":0,"H":0,"E":0,"S":375},
{"t":2.205,"L":0,"Q":0,"H":0,"E":0,"S":0},
{"t":2.21,"L":0,"Q":0,"H":0,"E":0,"S":0},
{"t":2.215,"L":0,"Q":0,"H":0,"E":0,"S":0},
{"t":2.22,"L":0,"Q":0,"H":0,"E":0,"S":0},
{"t":2.225,"L":0,"Q":0,"H":0,"E":0,"S":0},
{"t":2.23,"L":0,"Q":0,"H":0,"E":0,"S":0},
{"t":2.235,"L":0,"Q":0,"H":0,"E":0,"S":0},
{"t":2.24,"L":0,"Q":0,"H":0,"E":0,"S":0},
{"t":2.245,"L":0,"Q":0,"H":0,"E":0,"S":0},
{"t":2.25,"L":0,"Q":0,"H":0,"E":0,"S":0},
{"t":2.255,"L":0,"Q":0,"H":0,"E":0,"S":0},
{"t":2.26,"L":0,"Q":0,"H":0,"E":0,"S":0},
{"t":2.265,"L":0,"Q":0,"H":0,"E":0,"S":0},
{"t":2.27,"L":0,"Q":0,"H":0,"E":0,"S":0},
{"t":2.275,"L":0,"Q":0,"H":0,"E":0,"S":0},
{"t":2.28,"L":0,"Q":0,"H":0,"E":0,"S":0},
{"t":2.285,"L":0,"Q":0,"H":0,"E":0,"S":0},
{"t":2.29,"L":0,"Q":0,"H":0,"E":0,"S":0},
{"t":2.295,"L":0,"Q":0,"H":0,"E":0,"S":0},
{"t":2.3,"L":0,"Q":0,"H":0,"E":0,"S":0},
{"t":2.305,"L":0,"Q":0,"H":0,"E":0,"S":0},
{"t":2.31,"L":0,"Q":0,"H":0,"E":0,"S":0},
{"t":2.315,"L":0,"Q":0,"H":0,"E":0,"S":0},
{"t":2.32,"L":0,"Q":0,"H":0,"E":0,"S":0},
{"t":2.325,"L":0,"Q":0,"H":0,"E":0,"S":0},
{"t":2.33,"L":0,"Q":0,"H":0,"E":0,"S":0},
{"t":2.335,"L":0,"Q":0,"H":0,"E":0,"S":0},
{"t":2.34,"L":0,"Q":0,"H":0,"E":0,"S":0},
{"t":2.345,"L":0,"Q":0,"H":0,"E":0,"S":0},
{"t":2.35,"L":0,"Q":0,"H":0,"E":0,"S":0},
{"t":2.355,"L":0,"Q":0,"H":0,"E":0,"S":0},
{"t":2.36,"L":0,"Q":0,"H":0,"E":0,"S":0},
{"t":2.365,"L":0,"Q":0,"H":0,"E":0,"S":0},
{"t":2.37,"L":0,"Q":0,"H":0,"E":0,"S":0},
{"t":2.375,"L":0,"Q":0,"H":0,"E":0,"S":0},
{"t":2.38,"L":0,"Q":0,"H":0,"E":0,"S":0},
{"t":2.385,"L":0,"Q":0,"H":0,"E":0,"S":0},
{"t":2.39,"L":0,"Q":0,"H":0,"E":0,"S":0},
{"t":2.395,"L":0,"Q":0,"H":0,"E":0,"S":0},
{"t":2.4,"L":0,"Q":0,"H":0,"E":0,"S":187.5},
{"t":2.405,"L":6,"Q":8,"H":9,"E":43,"S":187.5},
{"t":2.41,"L":13,"Q":15,"H":18,"E":61,"S":187.5},
{"t":2.415,"L":19,"Q":23,"H":27,"E":75,"S":187.5},
{"t":2.42,"L":25,"Q":31,"H":36,"E":86,"S":187.5},
{"t":2.425,"L":31,"Q":38,"H":45,"E":95,"S":187.5},
{"t":2.43,"L":38,"Q":46,"H":53,"E":104,"S":187.5},
{"t":2.435,"L":44,"Q":54,"H":62,"E":112,"S":187.5},
{"t":2.44,"L":50,"Q":61,"H":70,"E":119,"S":187.5},
{"t":2.445,"L":56,"Q":69,"H":78,"E":126,"S":187.5},
{"t":2.45,"L":63,"Q":76,"H":86,"E":132,"S":187.5},
{"t":2.455,"L":69,"Q":84,"H":94,"E":138,"S":187.5},
{"t":2.46,"L":75,"Q":91,"H":101,"E":143,"S":187.5},
{"t":2.465,"L":81,"Q":98,"H":109,"E":148,"S":187.5},
{"t":2.47,"L":88,"Q":106,"H":116,"E":153,"S":187.5},
{"t":2.475,"L":94,"Q":113,"H":123,"E":158,"S":187.5},
{"t":2.48,"L":100,"Q":120,"H":130,"E":162,"S":187.5},
{"t":2.485,"L":106,"Q":127,"H":137,"E":167,"S":187.5},
{"t":2.49,"L":113,"Q":134,"H":143,"E":171,"S":187.5},
{"t":2.495,"L":119,"Q":141,"H":150,"E":174,"S":187.5},
{"t":2.5,"L":125,"Q":147,"H":156,"E":178,"S":187.5},
{"t":2.505,"L":131,"Q":154,"H":162,"E":181,"S":187.5},
{"t":2.51,"L":138,"Q":160,"H":168,"E":185,"S":187.5},
{"t":2.515,"L":144,"Q":167,"H":174,"E":188,"S":187.5},
{"t":2.52,"L":150,"Q":173,"H":180,"E":191,"S":187.5},
{"t":2.525,"L":156,"Q":179,"H":186,"E":194,"S":187.5},
{"t":2.53,"L":163,"Q":185,"H":191,"E":197,"S":187.5},
{"t":2.535,"L":169,"Q":191,"H":196,"E":199,"S":187.5},
{"t":2.54,"L":175,"Q":197,"H":201,"E":202,"S":187.5},
{"t":2.545,"L":181,"Q":203,"H":206,"E":204,"S":187.5},
{"t":2.55,"L":188,"Q":208,"H":211,"E":207,"S":187.5},
{"t":2.555,"L":194,"Q":214,"H":216,"E":209,"S":187.5},
{"t":2.56,"L":200,"Q":219,"H":220,"E":211,"S":187.5},
{"t":2.565,"L":206,"Q":224,"H":224,"E":213,"S":187.5},
{"t":2.57,"L":213,"Q":229,"H":228,"E":215,"S":187.5},
{"t":2.575,"L":219,"Q":234,"H":232,"E":217,"S":187.5},
{"t":2.58,"L":225,"Q":238,"H":236,"E":219,"S":187.5},
{"t":2.585,"L":231,"Q":243,"H":240,"E":221,"S":187.5},
{"t":2.59,"L":238,"Q":247,"H":243,"E":222,"S":187.5},
{"t":2.595,"L":244,"Q":251,"H":247,"E":224,"S":187.5},
{"t":2.6,"L":250,"Q":255,"H":250,"E":225,"S":187.5},
{"t":2.605,"L":256,"Q":259,"H":253,"E":226,"S":187.5},
{"t":2.61,"L":263,"Q":262,"H":256,"E":228,"S":187.5},
{"t":2.615,"L":269,"Q":266,"H":259,"E":229,"S":187.5},
{"t":2.62,"L":275,"Q":269,"H":261,"E":230,"S":187.5},
{"t":2.625,"L":281,"Q":272,"H":264,"E":231,"S":187.5},
{"t":2.63,"L":288,"Q":275,"H":266,"E":232,"S":187.5},
{"t":2.635,"L":294,"Q":278,"H":268,"E":233,"S":187.5},
{"t":2.64,"L":300,"Q":280,"H":270,"E":234,"S":187.5},
{"t":2.645,"L":306,"Q":282,"H":272,"E":235,"S":187.5},
{"t":2.65,"L":313,"Q":285,"H":273,"E":235,"S":187.5},
{"t":2.655,"L":319,"Q":286,"H":275,"E":236,"S":187.5},
{"t":2.66,"L":325,"Q":288,"H":276,"E":237,"S":187.5},
{"t":2.665,"L":331,"Q":290,"H":277,"E":237,"S":187.5},
{"t":2.67,"L":338,"Q":291,"H":278,"E":238,"S":187.5},
{"t":2.675,"L":344,"Q":292,"H":279,"E":238,"S":187.5},
{"t":2.68,"L":350,"Q":293,"H":280,"E":238,"S":187.5},
{"t":2.685,"L":356,"Q":294,"H":281,"E":238,"S":187.5},
{"t":2.69,"L":363,"Q":294,"H":281,"E":239,"S":187.5},
{"t":2.695,"L":369,"Q":294,"H":281,"E":239,"S":187.5},
{"t":2.7,"L":375,"Q":295,"H":281,"E":239,"S":187.5},
{"t":2.705,"L":369,"Q":294,"H":281,"E":239,"S":187.5},
{"t":2.71,"L":363,"Q":294,"H":281,"E":239,"S":187.5},
{"t":2.715,"L":356,"Q":294,"H":281,"E":238,"S":187.5},
{"t":2.72,"L":350,"Q":293,"H":280,"E":238,"S":187.5},
{"t":2.725,"L":344,"Q":292,"H":279,"E":238,"S":187.5},
{"t":2.73,"L":338,"Q":291,"H":278,"E":238,"S":187.5},
{"t":2.735,"L":331,"Q":290,"H":277,"E":237,"S":187.5},
{"t":2.74,"L":325,"Q":288,"H":276,"E":237,"S":187.5},
{"t":2.745,"L":319,"Q":286,"H":275,"E":236,"S":187.5},
{"t":2.75,"L":313,"Q":285,"H":273,"E":235,"S":187.5},
{"t":2.755,"L":306,"Q":282,"H":272,"E":235,"S":187.5},
{"t":2.76,"L":300,"Q":280,"H":270,"E":234,"S":187.5},
{"t":2.765,"L":294,"Q":278,"H":268,"E":233,"S":187.5},
{"t":2.77,"L":288,"Q":275,"H":266,"E":232,"S":187.5},
{"t":2.775,"L":281,"Q":272,"H":264,"E":231,"S":187.5},
{"t":2.78,"L":275,"Q":269,"H":261,"E":230,"S":187.5},
{"t":2.785,"L":269,"Q":266,"H":259,"E":229,"S":187.5},
{"t":2.79,"L":263,"Q":262,"H":256,"E":228,"S":187.5},
{"t":2.795,"L":256,"Q":259,"H":253,"E":226,"S":187.5},
{"t":2.8,"L":250,"Q":255,"H":250,"E":225,"S":187.5},
{"t":2.805,"L":244,"Q":251,"H":247,"E":224,"S":187.5},
{"t":2.81,"L":238,"Q":247,"H":243,"E":222,"S":187.5},
{"t":2.815,"L":231,"Q":243,"H":240,"E":221,"S":187.5},
{"t":2.82,"L":225,"Q":238,"H":236,"E":219,"S":187.5},
{"t":2.825,"L":219,"Q":234,"H":232,"E":217,"S":187.5},
{"t":2.83,"L":213,"Q":229,"H":228,"E":215,"S":187.5},
{"t":2.835,"L":206,"Q":224,"H":224,"E":213,"S":187.5},
{"t":2.84,"L":200,"Q":219,"H":220,"E":211,"S":187.5},
{"t":2.845,"L":194,"Q":214,"H":216,"E":209,"S":187.5},
{"t":2.85,"L":188,"Q":208,"H":211,"E":207,"S":187.5},
{"t":2.855,"L":181,"Q":203,"H":206,"E":204,"S":187.5},
{"t":2.86,"L":175,"Q":197,"H":201,"E":202,"S":187.5},
{"t":2.865,"L":169,"Q":191,"H":196,"E":199,"S":187.5},
{"t":2.87,"L":163,"Q":185,"H":191,"E":197,"S":187.5},
{"t":2.875,"L":156,"Q":179,"H":186,"E":194,"S":187.5},
{"t":2.88,"L":150,"Q":173,"H":180,"E":191,"S":187.5},
{"t":2.885,"L":144,"Q":167,"H":174,"E":188,"S":187.5},
{"t":2.89,"L":138,"Q":160,"H":168,"E":185,"S":187.5},
{"t":2.895,"L":131,"Q":154,"H":162,"E":181,"S":187.5},
{"t":2.9,"L":125,"Q":147,"H":156,"E":178,"S":187.5},
{"t":2.905,"L":119,"Q":141,"H":150,"E":174,"S":187.5},
{"t":2.91,"L":113,"Q":134,"H":143,"E":171,"S":187.5},
{"t":2.915,"L":106,"Q":127,"H":137,"E":167,"S":187.5},
{"t":2.92,"L":100,"Q":120,"H":130,"E":162,"S":187.5},
{"t":2.925,"L":94,"Q":113,"H":123,"E":158,"S":187.5},
{"t":2.93,"L":88,"Q":106,"H":116,"E":153,"S":187.5},
{"t":2.935,"L":81,"Q":98,"H":109,"E":148,"S":187.5},
{"t":2.94,"L":75,"Q":91,"H":101,"E":143,"S":187.5},
{"t":2.945,"L":69,"Q":84,"H":94,"E":138,"S":187.5},
{"t":2.95,"L":63,"Q":76,"H":86,"E":132,"S":187.5},
{"t":2.955,"L":56,"Q":69,"H":78,"E":126,"S":187.5},
{"t":2.96,"L":50,"Q":61,"H":70,"E":119,"S":187.5},
{"t":2.965,"L":44,"Q":54,"H":62,"E":112,"S":187.5},
{"t":2.97,"L":38,"Q":46,"H":53,"E":104,"S":187.5},
{"t":2.975,"L":31,"Q":38,"H":45,"E":95,"S":187.5},
{"t":2.98,"L":25,"Q":31,"H":36,"E":86,"S":187.5},
{"t":2.985,"L":19,"Q":23,"H":27,"E":75,"S":187.5},
{"t":2.99,"L":13,"Q":15,"H":18,"E":61,"S":187.5},
{"t":2.995,"L":6,"Q":8,"H":9,"E":43,"S":187.5},
{"t":3,"L":0,"Q":0,"H":0,"E":0,"S":187.5},
{"t":3.005,"L":0,"Q":0,"H":0,"E":0,"S":0}
]},
"encoding": {
  "x": {"field": "t", "type": "quantitative", "scale": {"domain": [0, 4], "nice": false, "zero": false},
    "axis": {"title": "Time (sec)", "values": [0, 1, 2, 3, 4], "format": "d", "grid": false,
      "domainColor": "#808080", "domainWidth": 2, "tickColor": "#808080", "tickSize": 9, "tickWidth": 1,
      "labelFontSize": 26, "labelColor": "black", "labelPadding": 20, "labelFlush": false,
      "titleFontSize": 27, "titleFontWeight": "bold", "titleColor": "black", "titlePadding": 24}}
},
"layer": [
  {"mark": {"type": "line", "color": "#0000FF", "strokeWidth": 1.25},
   "encoding": {"y": {"field": "L", "type": "quantitative", "scale": {"domain": [0, 1600], "nice": false}, "title": "Force (kips)"}}},
  {"mark": {"type": "point", "shape": "diamond", "filled": true, "color": "#000080", "size": 64, "opacity": 1},
   "encoding": {"y": {"field": "L", "type": "quantitative", "scale": {"domain": [0, 1600], "nice": false}, "title": "Force (kips)"}}},
  {"mark": {"type": "line", "color": "#FF00FF", "strokeWidth": 1.25},
   "encoding": {"y": {"field": "Q", "type": "quantitative", "scale": {"domain": [0, 1600], "nice": false}, "title": "Force (kips)"}}},
  {"mark": {"type": "point", "shape": "square", "filled": true, "color": "#FF00FF", "size": 42, "opacity": 1},
   "encoding": {"y": {"field": "Q", "type": "quantitative", "scale": {"domain": [0, 1600], "nice": false}, "title": "Force (kips)"}}},
  {"mark": {"type": "line", "color": "#FFFF00", "strokeWidth": 1.25},
   "encoding": {"y": {"field": "H", "type": "quantitative", "scale": {"domain": [0, 1600], "nice": false}, "title": "Force (kips)"}}},
  {"mark": {"type": "point", "shape": "triangle-up", "filled": true, "color": "#FFFF00", "size": 60, "opacity": 1},
   "encoding": {"y": {"field": "H", "type": "quantitative", "scale": {"domain": [0, 1600], "nice": false}, "title": "Force (kips)"}}},
  {"mark": {"type": "line", "color": "#FF0000", "strokeWidth": 1.25},
   "encoding": {"y": {"field": "E", "type": "quantitative", "scale": {"domain": [0, 1600], "nice": false}, "title": "Force (kips)"}}},
  {"mark": {"type": "point", "shape": "M-1,-1L1,1M-1,1L1,-1", "filled": false, "color": "#FF0000", "size": 49, "strokeWidth": 1, "opacity": 1},
   "encoding": {"y": {"field": "E", "type": "quantitative", "scale": {"domain": [0, 1600], "nice": false}, "title": "Force (kips)"}}},
  {"mark": {"type": "line", "color": "#008000", "strokeWidth": 1.25},
   "encoding": {"y": {"field": "S", "type": "quantitative", "scale": {"domain": [0, 1600], "nice": false}, "title": "Force (kips)"}}},
  {"mark": {"type": "point", "shape": "M-1,-1L1,1M-1,1L1,-1M0,-1.1L0,1.1", "filled": false, "color": "#008000", "size": 49, "strokeWidth": 1, "opacity": 1},
   "encoding": {"y": {"field": "S", "type": "quantitative", "scale": {"domain": [0, 1600], "nice": false}, "title": "Force (kips)"}}},
  {"data": {"values": []},
   "mark": {"type": "point", "filled": false, "strokeWidth": 1.25, "opacity": 1},
   "encoding": {
     "fill": {"field": "n", "type": "nominal",
       "scale": {"domain": ["Linear", "Quarter-Sine", "Half-Parabola", "Quarter-Ellipse", "Step"], "range": ["#000080", "#FF00FF", "#FFFF00", "transparent", "transparent"]},
       "legend": {"orient": "none", "legendX": 625, "legendY": 180, "title": null, "labelFontSize": 26, "labelFont": "Liberation Sans", "labelColor": "black", "labelLimit": 400, "labelOffset": 17, "symbolSize": 900, "symbolStrokeWidth": 1.25, "rowPadding": 10, "padding": 6, "strokeColor": "black", "fillColor": "white"}},
     "stroke": {"field": "n", "type": "nominal",
       "scale": {"domain": ["Linear", "Quarter-Sine", "Half-Parabola", "Quarter-Ellipse", "Step"], "range": ["#0000FF", "#FF00FF", "#FFFF00", "#FF0000", "#008000"]},
       "legend": {"orient": "none", "legendX": 625, "legendY": 180, "title": null, "labelFontSize": 26, "labelFont": "Liberation Sans", "labelColor": "black", "labelLimit": 400, "labelOffset": 17, "symbolSize": 900, "symbolStrokeWidth": 1.25, "rowPadding": 10, "padding": 6, "strokeColor": "black", "fillColor": "white"}},
     "shape": {"field": "n", "type": "nominal",
       "scale": {"domain": ["Linear", "Quarter-Sine", "Half-Parabola", "Quarter-Ellipse", "Step"], "range": [
         "M-0.733,0L1.733,0M0.22,0L0.5,-0.28L0.78,0L0.5,0.28Z",
         "M-0.733,0L1.733,0M0.28,-0.22L0.72,-0.22L0.72,0.22L0.28,0.22Z",
         "M-0.733,0L1.733,0M0.5,-0.28L0.78,0.24L0.22,0.24Z",
         "M-0.733,0L1.733,0M0.27,-0.23L0.73,0.23M0.27,0.23L0.73,-0.23",
         "M-0.733,0L1.733,0M0.27,-0.23L0.73,0.23M0.27,0.23L0.73,-0.23M0.5,-0.28L0.5,0.28"]},
       "legend": {"orient": "none", "legendX": 625, "legendY": 180, "title": null, "labelFontSize": 26, "labelFont": "Liberation Sans", "labelColor": "black", "labelLimit": 400, "labelOffset": 17, "symbolSize": 900, "symbolStrokeWidth": 1.25, "rowPadding": 10, "padding": 6, "strokeColor": "black", "fillColor": "white"}}
   }}
]
}
